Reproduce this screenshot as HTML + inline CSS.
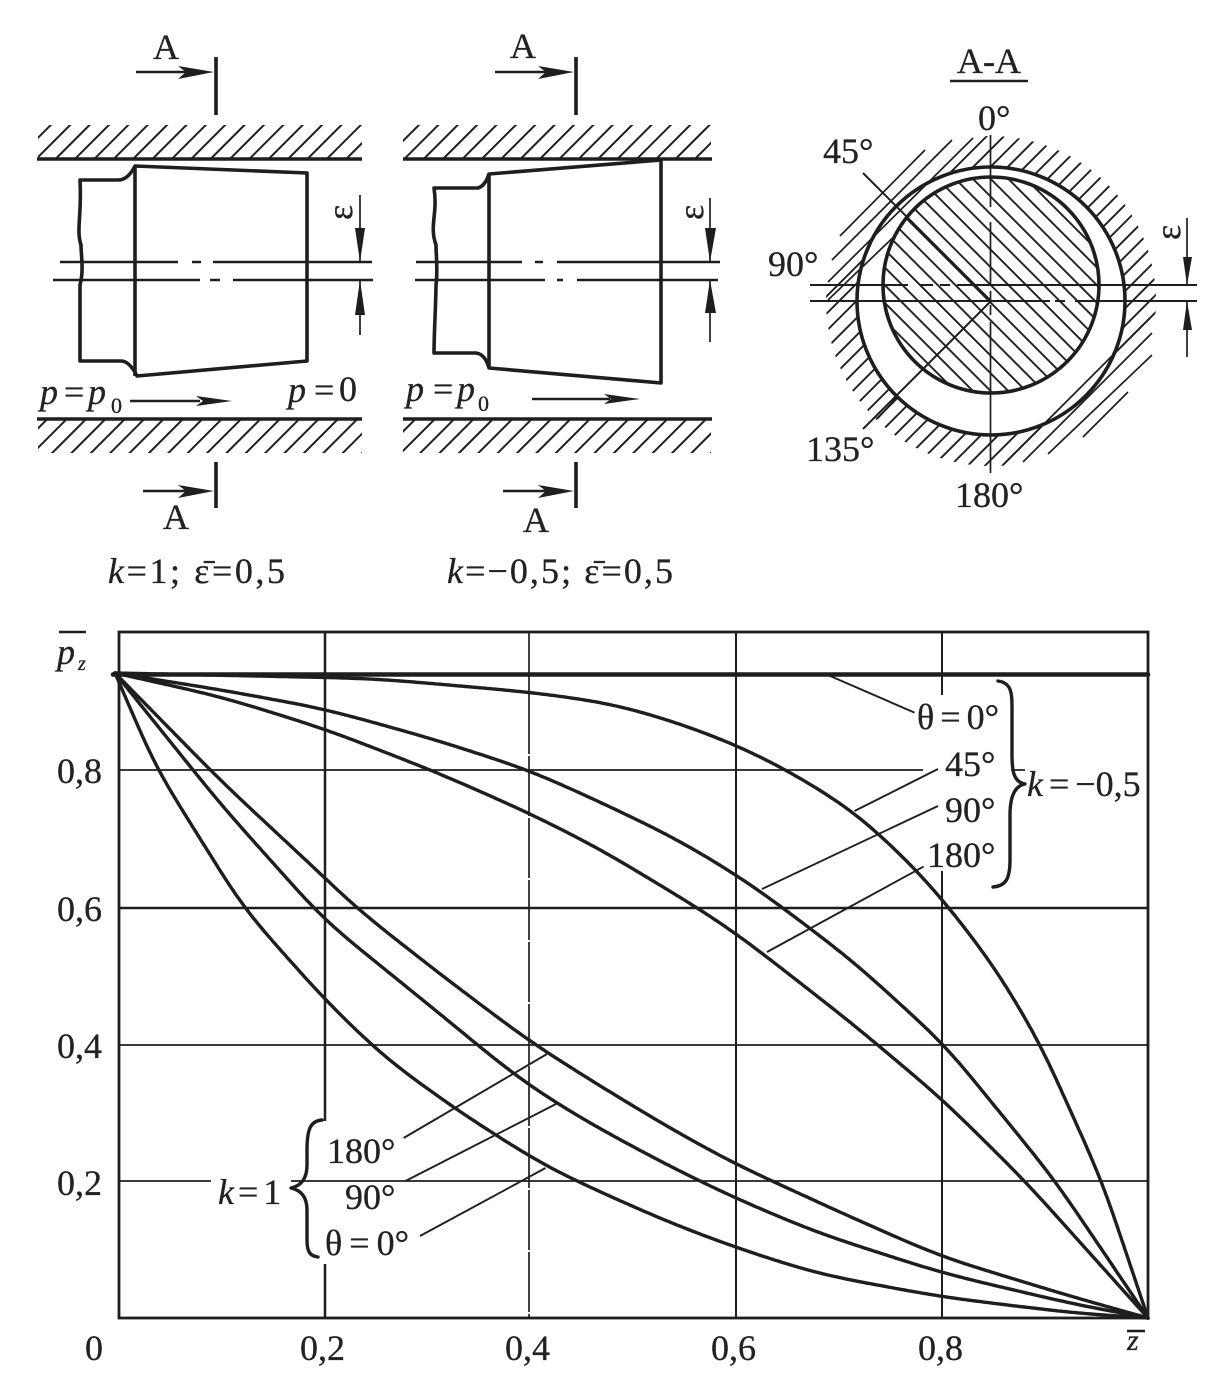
<!DOCTYPE html>
<html><head><meta charset="utf-8"><style>
html,body{margin:0;padding:0;background:#fff}
svg{display:block}
text{font-family:"Liberation Serif","DejaVu Serif",serif;font-size:36px;fill:#222;stroke:#222;stroke-width:.3}
.i{font-style:italic}
.l{fill:none;stroke:#1e1e1e;stroke-width:1.7}
.m{fill:none;stroke:#1e1e1e;stroke-width:2.5}
.t{fill:none;stroke:#1e1e1e;stroke-width:3.6;stroke-linejoin:round}
.c{fill:none;stroke:#1e1e1e;stroke-width:3.4;stroke-linejoin:round;stroke-linecap:round}
.h{fill:#1e1e1e;stroke:none}
</style></head><body>
<svg xmlns="http://www.w3.org/2000/svg" width="1215" height="1389" viewBox="0 0 1215 1389">
<defs>
<pattern id="wall" width="13.7" height="13.7" patternUnits="userSpaceOnUse" patternTransform="rotate(-45)"><line x1="0" y1="1" x2="13.7" y2="1" stroke="#1e1e1e" stroke-width="2"/></pattern>
<pattern id="outer" width="12.2" height="12.2" patternUnits="userSpaceOnUse" patternTransform="rotate(-45)"><line x1="0" y1="1" x2="12.2" y2="1" stroke="#1e1e1e" stroke-width="1.9"/></pattern>
<pattern id="inner" width="12.5" height="12.5" patternUnits="userSpaceOnUse" patternTransform="rotate(45)"><line x1="0" y1="1" x2="12.5" y2="1" stroke="#1e1e1e" stroke-width="1.9"/></pattern>
<mask id="ring"><rect width="1215" height="600" fill="#000"/><circle cx="991" cy="301" r="165" fill="#fff"/><circle cx="991" cy="301" r="134" fill="#000"/><polygon points="0,0 1108,0 508,600 0,600" fill="#000"/><polygon points="1215,262 877,600 1215,600" fill="#000"/></mask>
</defs>
<rect width="1215" height="1389" fill="#fff"/>

<!-- left section -->
<rect x="38" y="125" width="324" height="33" fill="url(#wall)"/>
<rect x="38" y="420" width="324" height="33" fill="url(#wall)"/>
<path class="t" d="M37 159H362M37 419H362"/>
<path class="t" d="M80 180H118Q128 180 135 166L307 173V361L137 376Q130 362 122 361H80C80 340 80 300 80 285C84 270 81 255 81 245C76 230 82 215 80 180Z"/>
<path class="t" d="M135 166V376"/>
<path class="m" d="M60 262H178M192 262H201M213 262H372M53 280H200M210 280H220M233 280H373"/>
<path class="l" d="M360 195V262M360 280V335"/>
<polygon class="h" points="355,228 365,228 360,262"/><polygon class="h" points="355,315 365,315 360,280"/>
<text transform="translate(352,220) rotate(-90)">ε</text>
<path class="t" d="M216 57V115M216 462V508"/>
<path class="m" d="M136 72H205M143 491H205"/>
<polygon class="h" points="178,66 214,72 178,79 186,72"/><polygon class="h" points="178,485 214,491 178,498 186,491"/>
<text x="153" y="59">A</text><text x="163" y="529">A</text>
<text class="i" x="40" y="404">p</text><text x="64" y="404">=</text><text class="i" x="88" y="404">p</text><text x="111" y="413" style="font-size:22px">0</text>
<path class="m" d="M130 401H200"/><polygon class="h" points="196,396 232,401 196,406 203,401"/>
<text class="i" x="288" y="402">p</text><text x="314" y="402">=</text><text x="339" y="401">0</text>
<text x="108" y="583" textLength="177" lengthAdjust="spacing"><tspan class="i">k</tspan>=1; ε̄=0,5</text>

<!-- middle section -->
<rect x="403" y="125" width="308" height="33" fill="url(#wall)"/>
<rect x="403" y="420" width="308" height="33" fill="url(#wall)"/>
<path class="t" d="M403 159H712M403 419H712"/>
<path class="t" d="M434 188H478Q485 186 489 174L661 160V383L489 368Q485 354 476 353H434C434 335 436 300 436 285C438 270 436 255 436 245C429 225 438 215 434 188Z"/>
<path class="t" d="M489 174V368"/>
<path class="m" d="M416 262H522M535 262H543M557 262H720M415 280H545M557 280H563M577 280H718"/>
<path class="l" d="M710 198V262M710 280V342"/>
<polygon class="h" points="705,228 716,228 710,262"/><polygon class="h" points="705,313 716,313 710,280"/>
<text transform="translate(703,220) rotate(-90)">ε</text>
<path class="t" d="M576 57V115M576 462V508"/>
<path class="m" d="M495 72H565M503 491H565"/>
<polygon class="h" points="538,66 574,72 538,79 546,72"/><polygon class="h" points="538,485 574,491 538,498 546,491"/>
<text x="510" y="58">A</text><text x="523" y="532">A</text>
<text class="i" x="406" y="401">p</text><text x="433" y="401">=</text><text class="i" x="457" y="401">p</text><text x="478" y="411" style="font-size:22px">0</text>
<path class="m" d="M532 399H610"/><polygon class="h" points="604,394 640,399 604,404 611,399"/>
<text x="447" y="583" textLength="226" lengthAdjust="spacing"><tspan class="i">k</tspan>=−0,5; ε̄=0,5</text>

<!-- section A-A -->
<text x="957" y="73">A-A</text>
<path class="m" d="M950 81H1028"/>
<rect x="810" y="120" width="360" height="360" fill="url(#outer)" mask="url(#ring)"/>
<path class="l" d="M840 236L925 150M832 260L952 140M828 282L973 138M828 300L905 226M1083 437L1128 392M1048 454L1152 355M1023 462L1152 333M1005 463L1150 318M878 418L897 397"/>
<circle cx="991" cy="285" r="108" fill="#fff" stroke="none"/>
<circle cx="991" cy="285" r="108" fill="url(#inner)"/>
<circle cx="991" cy="301" r="134" class="t"/>
<circle cx="991" cy="285" r="108" class="t"/>
<path class="m" d="M863 173L991 301L863 429" style="stroke-width:2"/>
<path class="l" d="M990.5 135V207M990.5 222V285M990.5 291V300M990.5 305V315M990.5 322V473"/>
<path class="m" style="stroke-width:2" d="M810 285H908M920 285H933M940 285H950M957 285H1197M810 301H1050M1055 301H1065M1075 301H1197"/>
<path class="l" d="M1187 218V285M1187 301V357"/>
<polygon class="h" points="1183,257 1192,257 1187,285"/><polygon class="h" points="1183,330 1192,330 1187,301"/>
<text transform="translate(1180,240) rotate(-90)">ε</text>
<text x="978" y="130">0°</text><text x="823" y="163">45°</text><text x="768" y="276">90°</text><text x="806" y="461">135°</text><text x="955" y="507">180°</text>

<!-- chart -->
<path class="l" d="M119 770H923M1011 770H1025M119 1045H1148M119 1181H211M291 1181H1148"/>
<path class="m" d="M119 908H1148"/>
<path class="m" d="M325 632V1121M325 1264V1318"/>
<path class="l" d="M529 632V1318" stroke-dasharray="60 2"/>
<path class="l" style="stroke-width:2" d="M736 632V1318"/>
<path class="l" style="stroke-width:2" d="M942 632V695M942 871V1318"/>
<rect x="119" y="632" width="1029" height="686" class="m" style="stroke-width:2.8"/>
<path class="c" d="M113 674.5H1148" style="stroke-width:4.6"/>
<g id="curves"></g>
<path class="l" style="stroke-width:1.9" d="M829 675.5L914.5 712.6M854.5 811L938 769M762 889L938 806M767 952L923.6 866.6M403.6 1138L547 1054M405.5 1181L556 1104M420 1236L545.5 1168"/>
<path class="c" d="M998 681C1013 683 1012 695 1012 715V755C1012 772 1014 782 1025 784C1014 786 1010 798 1010 815V860C1010 880 1005 886 993 887"/>
<path class="c" d="M322 1120C310 1121 307 1130 307 1150V1165C307 1180 300 1186 291 1188C300 1190 307 1196 307 1210V1240C307 1252 310 1256 318 1257"/>
<text x="917" y="729"><tspan>θ</tspan><tspan dx="6">=</tspan><tspan dx="6">0°</tspan></text>
<text x="945" y="776">45°</text><text x="945" y="822">90°</text><text x="927" y="867">180°</text>
<text x="1027" y="796"><tspan class="i">k</tspan><tspan dx="6">=</tspan><tspan dx="6">−0,5</tspan></text>
<text x="327" y="1163">180°</text><text x="345" y="1209">90°</text>
<text x="325" y="1255"><tspan>θ</tspan><tspan dx="7">=</tspan><tspan dx="7">0°</tspan></text>
<text x="218" y="1204"><tspan class="i">k</tspan><tspan dx="4">=</tspan><tspan dx="5">1</tspan></text>
<text x="57" y="783">0,8</text><text x="57" y="921">0,6</text><text x="57" y="1058">0,4</text><text x="57" y="1195">0,2</text>
<path class="m" d="M59 632H86"/>
<text class="i" x="57" y="664">p</text><text class="i" x="78" y="670" style="font-size:20px">z</text>
<text x="85" y="1360">0</text><text x="300" y="1360">0,2</text><text x="505" y="1360">0,4</text><text x="711" y="1360">0,6</text><text x="918" y="1360">0,8</text>
<text class="i" x="1127" y="1350" style="font-size:30px">z</text>
<path class="m" d="M1127 1331H1145"/>
</svg>
<script>
var E=[1148,1318],S=[115,673];
var D=[
[[374,678.5],[529,692],[610,703],[673,721],[737,745],[789,771],[854,811],[913,866],[949,907],[996,969],[1040,1043],[1102,1181]],
[[222,690],[325,709],[433,739],[529,770],[600,802],[673,837],[737,875],[782,907],[854,962],[945,1045],[1054,1179]],
[[222,697],[325,729],[436,772],[529,813],[600,849],[698,908],[737,934],[767,957],[854,1025],[942,1099],[1025,1181]],
[[222,782],[325,878],[356,908],[440,974],[529,1041],[600,1086],[673,1130],[737,1165],[855,1219],[942,1257],[1073,1297]],
[[222,806],[324,920],[440,1014],[513,1074],[556,1103],[600,1129],[673,1168],[737,1199],[818,1233],[942,1273],[1073,1304]],
[[156,768],[244,909],[325,1000],[385,1058],[454,1108],[494,1134],[545,1166],[600,1192],[673,1224],[737,1248],[818,1274],[942,1297],[1073,1313]]
];
var g=document.getElementById('curves');
D.forEach(function(a){
 var p=[S].concat(a,[E]),L=[0],i,j,k;
 for(i=1;i<p.length;i++)L.push(L[i-1]+Math.hypot(p[i][0]-p[i-1][0],p[i][1]-p[i-1][1]));
 var N=500,q=[],s=0;
 for(i=0;i<=N;i++){var t=L[L.length-1]*i/N;while(s<p.length-2&&L[s+1]<t)s++;var f=(t-L[s])/(L[s+1]-L[s]);q.push([p[s][0]+(p[s+1][0]-p[s][0])*f,p[s][1]+(p[s+1][1]-p[s][1])*f]);}
 for(k=0;k<3;k++){var r=[];for(i=0;i<=N;i++){var w=Math.min(10,i,N-i),x=0,y=0;for(j=-w;j<=w;j++){x+=q[i+j][0];y+=q[i+j][1];}r.push([x/(2*w+1),y/(2*w+1)]);}q=r;}
 var d='M'+q.map(function(c){return c[0].toFixed(1)+' '+c[1].toFixed(1);}).join('L');
 var e=document.createElementNS('http://www.w3.org/2000/svg','path');e.setAttribute('d',d);e.setAttribute('class','c');g.appendChild(e);
});
</script>
</body></html>
